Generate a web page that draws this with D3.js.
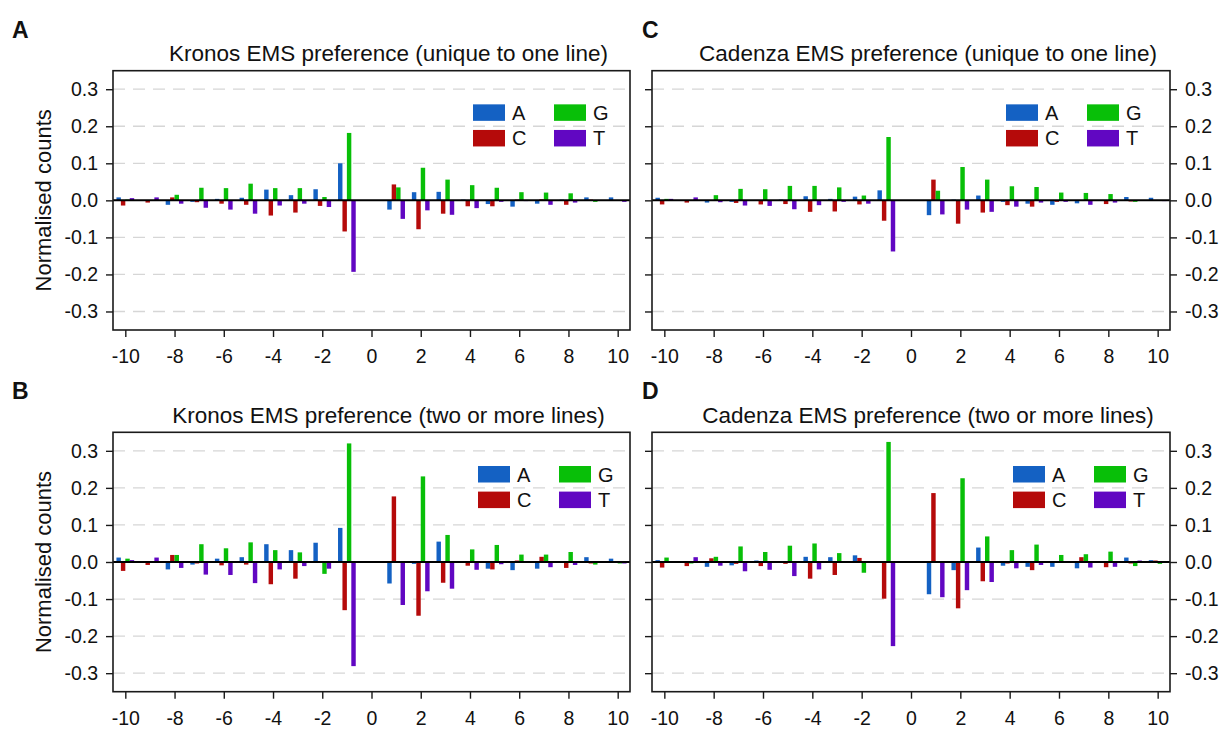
<!DOCTYPE html>
<html>
<head>
<meta charset="utf-8">
<script src="https://cdn.jsdelivr.net/npm/d3@7"></script>
<style>
  html, body { margin: 0; padding: 0; background: #fff; }
  svg { display: block; font-family: "Liberation Sans", Arial, Helvetica, sans-serif; }
</style>
</head>
<body>
<svg id="chart" width="1227" height="732"></svg>
<script>
// ---------------- data ----------------
const positions = [-10,-9,-8,-7,-6,-5,-4,-3,-2,-1,1,2,3,4,5,6,7,8,9,10];
const bases = ["A","C","G","T"];
const baseColors = ["#1461c3","#b50a0a","#08bf08","#6107c2"];
const xTickValues = [-10,-8,-6,-4,-2,0,2,4,6,8,10];
const yTickValues = [-0.3,-0.2,-0.1,0.0,0.1,0.2,0.3];

// Panel A: Kronos, unique to one line
const kronosUniqueA = [0.008,0.001,-0.012,-0.004,0.004,0.007,0.029,0.014,0.030,0.100, -0.025,0.022,0.023,0.002,-0.010,-0.017,-0.009,0.002,0.008,0.008];
const kronosUniqueC = [-0.014,-0.006,0.008,-0.005,-0.009,-0.012,-0.041,-0.033,-0.015,-0.084, 0.043,-0.078,-0.036,-0.016,-0.016,0.002,0.003,-0.012,0.002,0.001];
const kronosUniqueG = [0.002,0.001,0.015,0.034,0.033,0.045,0.033,0.033,0.009,0.182, 0.035,0.088,0.056,0.041,0.034,0.022,0.021,0.019,-0.004,0.001];
const kronosUniqueT = [0.006,0.008,-0.009,-0.020,-0.025,-0.036,-0.014,-0.009,-0.018,-0.193, -0.050,-0.027,-0.039,-0.021,-0.004,-0.002,-0.012,-0.006,0.001,-0.004];

// Panel B: Kronos, two or more lines
const kronosSharedA = [0.012,0.001,-0.020,-0.007,0.009,0.013,0.048,0.032,0.052,0.092, -0.058,-0.005,0.055,0.002,-0.018,-0.022,-0.018,0.002,0.013,0.009];
const kronosSharedC = [-0.024,-0.008,0.019,-0.004,-0.009,-0.007,-0.060,-0.045,-0.002,-0.130, 0.177,-0.145,-0.056,-0.010,-0.020,0.004,0.014,-0.016,-0.004,0.001];
const kronosSharedG = [0.009,0.001,0.019,0.048,0.037,0.053,0.032,0.026,-0.032,0.320, 0.001,0.231,0.073,0.034,0.046,0.020,0.020,0.027,-0.007,-0.004];
const kronosSharedT = [0.005,0.012,-0.016,-0.034,-0.035,-0.057,-0.020,-0.011,-0.018,-0.281, -0.116,-0.079,-0.072,-0.021,-0.006,0.001,-0.014,-0.008,0.001,-0.004];

// Panel C: Cadenza, unique to one line
const cadenzaUniqueA = [0.007,0.001,-0.006,-0.004,0.001,0.002,0.011,0.004,0.010,0.027, -0.040,0.002,0.013,-0.004,-0.009,-0.012,-0.008,0.001,0.009,0.007];
const cadenzaUniqueC = [-0.011,-0.006,0.001,-0.007,-0.011,-0.010,-0.031,-0.030,-0.011,-0.055, 0.056,-0.063,-0.033,-0.013,-0.017,-0.004,0.001,-0.010,-0.003,0.001];
const cadenzaUniqueG = [0.004,0.001,0.014,0.031,0.030,0.039,0.039,0.035,0.013,0.171, 0.026,0.090,0.056,0.038,0.036,0.021,0.020,0.017,-0.004,0.001];
const cadenzaUniqueT = [0.004,0.008,-0.005,-0.014,-0.015,-0.024,-0.013,-0.004,-0.009,-0.138, -0.038,-0.025,-0.031,-0.017,-0.006,-0.004,-0.012,-0.006,0.001,-0.002];

// Panel D: Cadenza, two or more lines
const cadenzaSharedA = [0.005,0.001,-0.013,-0.009,0.004,0.001,0.014,0.013,0.018,0.001, -0.087,-0.022,0.039,-0.010,-0.013,-0.013,-0.017,0.001,0.012,0.005];
const cadenzaSharedC = [-0.015,-0.011,0.010,-0.005,-0.011,-0.005,-0.045,-0.035,0.011,-0.099, 0.186,-0.125,-0.052,-0.004,-0.022,0.001,0.013,-0.014,-0.004,0.004];
const cadenzaSharedG = [0.012,-0.004,0.014,0.042,0.027,0.044,0.050,0.024,-0.029,0.324, 0.001,0.226,0.069,0.032,0.047,0.019,0.021,0.028,-0.011,-0.005];
const cadenzaSharedT = [0.001,0.013,-0.010,-0.025,-0.021,-0.038,-0.020,0.001,0.001,-0.227, -0.095,-0.076,-0.054,-0.017,-0.008,0.001,-0.015,-0.013,0.004,0.001];

const panelLetters = ["A","B","C","D"];
const panelTitles = [
  "Kronos EMS preference (unique to one line)",
  "Kronos EMS preference (two or more lines)",
  "Cadenza EMS preference (unique to one line)",
  "Cadenza EMS preference (two or more lines)"
];
const yAxisTitle = "Normalised counts";

// ---------------- layout ----------------
const panels = [
  { letter: panelLetters[0], title: panelTitles[0], series: [kronosUniqueA, kronosUniqueC, kronosUniqueG, kronosUniqueT],
    x0: 113, x1: 630, y0: 70.7, y1: 330, side: "left", legendDx: 157 },
  { letter: panelLetters[1], title: panelTitles[1], series: [kronosSharedA, kronosSharedC, kronosSharedG, kronosSharedT],
    x0: 113, x1: 630, y0: 432.3, y1: 691.7, side: "left", legendDx: 152 },
  { letter: panelLetters[2], title: panelTitles[2], series: [cadenzaUniqueA, cadenzaUniqueC, cadenzaUniqueG, cadenzaUniqueT],
    x0: 652, x1: 1170, y0: 70.7, y1: 330, side: "right", legendDx: 164 },
  { letter: panelLetters[3], title: panelTitles[3], series: [cadenzaSharedA, cadenzaSharedC, cadenzaSharedG, cadenzaSharedT],
    x0: 652, x1: 1170, y0: 432.3, y1: 691.7, side: "right", legendDx: 157 }
];

const svg = d3.select("#chart");
const groupWidth = 0.72;

panels.forEach(p => {
  const x = d3.scaleLinear().domain([-10.5, 10.5]).range([p.x0, p.x1]);
  const y = d3.scaleLinear().domain([-0.35, 0.35]).range([p.y1, p.y0]);
  const band = d3.scaleBand().domain(bases).range([-groupWidth/2, groupWidth/2]).padding(0);
  const g = svg.append("g");

  // gridlines
  g.append("g").selectAll("line").data(yTickValues.filter(v => v !== 0)).join("line")
    .attr("x1", p.x0).attr("x2", p.x1)
    .attr("y1", d => y(d)).attr("y2", d => y(d))
    .attr("stroke", "#d6d6d6").attr("stroke-width", 1.3).attr("stroke-dasharray", "12,8");

  // bars
  bases.forEach((b, bi) => {
    const vals = p.series[bi];
    g.append("g").selectAll("rect").data(positions.map((pos, i) => ({pos, v: vals[i]}))).join("rect")
      .attr("x", d => x(d.pos + band(b)))
      .attr("width", d => x(d.pos + band(b) + band.bandwidth()) - x(d.pos + band(b)))
      .attr("y", d => y(Math.max(0, d.v)))
      .attr("height", d => Math.abs(y(d.v) - y(0)))
      .attr("fill", baseColors[bi]);
  });

  // zero line
  g.append("line").attr("x1", p.x0).attr("x2", p.x1).attr("y1", y(0)).attr("y2", y(0))
    .attr("stroke", "#000").attr("stroke-width", 2);

  // box
  g.append("rect").attr("x", p.x0).attr("y", p.y0).attr("width", p.x1 - p.x0).attr("height", p.y1 - p.y0)
    .attr("fill", "none").attr("stroke", "#1a1a1a").attr("stroke-width", 1.6);

  // x axis
  const xAxis = d3.axisBottom(x).tickValues(xTickValues).tickSize(7).tickPadding(12).tickFormat(d3.format("d"));
  const xa = g.append("g").attr("transform", `translate(0,${p.y1})`).call(xAxis);
  xa.select(".domain").remove();
  xa.selectAll(".tick line").attr("stroke", "#1a1a1a").attr("stroke-width", 1.4);
  xa.selectAll(".tick text").attr("font-size", 19.5).attr("fill", "#111")
    .attr("font-family", "Liberation Sans, Arial, sans-serif").text(d => d < 0 ? "-" + Math.abs(d) : d);

  // y axes: left ticks always; labels on outer side
  const yFmt = d => d < 0 ? "-" + Math.abs(d).toFixed(1) : d.toFixed(1);
  const yLeft = d3.axisLeft(y).tickValues(yTickValues).tickSize(7).tickPadding(8).tickFormat(yFmt);
  const yl = g.append("g").attr("transform", `translate(${p.x0},0)`).call(yLeft);
  yl.select(".domain").remove();
  yl.selectAll(".tick line").attr("stroke", "#1a1a1a").attr("stroke-width", 1.4);
  yl.selectAll(".tick text").attr("font-size", 19.5).attr("fill", "#111")
    .attr("font-family", "Liberation Sans, Arial, sans-serif");
  if (p.side === "right") {
    yl.selectAll(".tick text").remove();
    const yRight = d3.axisRight(y).tickValues(yTickValues).tickSize(7).tickPadding(8).tickFormat(yFmt);
    const yr = g.append("g").attr("transform", `translate(${p.x1},0)`).call(yRight);
    yr.select(".domain").remove();
    yr.selectAll(".tick line").attr("stroke", "#1a1a1a").attr("stroke-width", 1.4);
    yr.selectAll(".tick text").attr("font-size", 19.5).attr("fill", "#111")
      .attr("font-family", "Liberation Sans, Arial, sans-serif");
  } else {
    g.append("text").attr("transform", `translate(51,${(p.y0 + p.y1) / 2}) rotate(-90)`)
      .attr("text-anchor", "middle").attr("font-size", 22).attr("fill", "#111").text(yAxisTitle);
  }

  // title
  g.append("text").attr("x", (p.x0 + p.x1) / 2 + 17).attr("y", p.y0 - 9.5)
    .attr("text-anchor", "middle").attr("font-size", 22.5).attr("fill", "#111").text(p.title);

  // panel letter
  g.append("text").attr("x", p.side === "left" ? 12 : 642).attr("y", p.y0 - 33)
    .attr("font-size", 23).attr("font-weight", "bold").attr("fill", "#111").text(p.letter);

  // legend
  const lx = p.x1 - p.legendDx, ly = y(0) - 96;
  const legendCols = [0, 0, 81, 81], legendRows = [0, 25.6, 0, 25.6];
  bases.forEach((b, bi) => {
    g.append("rect").attr("x", lx + legendCols[bi]).attr("y", ly + legendRows[bi])
      .attr("width", 32).attr("height", 16.5).attr("fill", baseColors[bi]);
    g.append("text").attr("x", lx + legendCols[bi] + 39).attr("y", ly + legendRows[bi] + 15.5)
      .attr("font-size", 20).attr("fill", "#111").text(b);
  });
});
</script>
</body>
</html>
